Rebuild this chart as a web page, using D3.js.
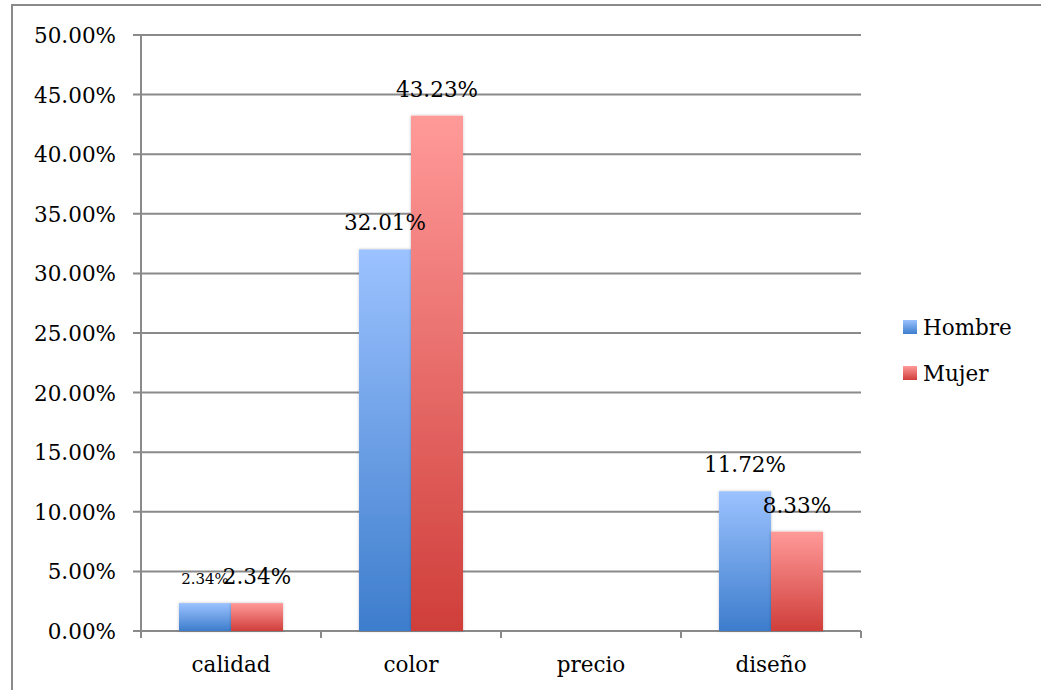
<!DOCTYPE html>
<html><head><meta charset="utf-8">
<script src="https://cdn.jsdelivr.net/npm/d3@7/dist/d3.min.js"></script>
<style>body{margin:0;background:#fff}svg{display:block}text{font-family:"DejaVu Serif","Liberation Serif",serif;fill:#000}</style>
</head><body><svg id="c" width="1041" height="690"></svg>
<script>
const categories = ["calidad","color","precio","diseño"];
const seriesNames = ["Hombre","Mujer"];
const hombre = [2.34, 32.01, 0, 11.72];
const mujer = [2.34, 43.23, 0, 8.33];
const hombreLabels = ["2.34%","32.01%",null,"11.72%"];
const mujerLabels = ["2.34%","43.23%",null,"8.33%"];
const yTicks = [0,5,10,15,20,25,30,35,40,45,50];

const svg = d3.select("#c");
const defs = svg.append("defs");
function grad(id, top, bot){
  const g = defs.append("linearGradient").attr("id",id).attr("x1",0).attr("y1",0).attr("x2",0).attr("y2",1);
  g.append("stop").attr("offset","0%").attr("stop-color",top);
  g.append("stop").attr("offset","100%").attr("stop-color",bot);
}
grad("gH","#9cc2ff","#3d7dcc");
grad("gM","#ff9a99","#cf3e3a");
const f = defs.append("filter").attr("id","sh").attr("x","-20%").attr("y","-20%").attr("width","140%").attr("height","140%");
f.append("feDropShadow").attr("dx",0).attr("dy",0).attr("stdDeviation",1.5).attr("flood-color","#000").attr("flood-opacity",0.25);

// outer frame
svg.append("rect").attr("x",12).attr("y",5).attr("width",1100).attr("height",800)
  .attr("fill","#fff").attr("stroke","#8a8a8a").attr("stroke-width",2);

const L=141, R=861, T=35, B=631;
const x = d3.scaleBand().domain(categories).range([L,R]);
const xs = d3.scaleBand().domain(seriesNames).range([0,x.bandwidth()]).paddingInner(0).paddingOuter(0.73);
const y = d3.scaleLinear().domain([0,50]).range([B,T]);

// gridlines
svg.append("g").selectAll("line").data(yTicks).join("line")
  .attr("x1",L-8).attr("x2",R).attr("y1",d=>y(d)).attr("y2",d=>y(d))
  .attr("stroke","#8a8a8a").attr("stroke-width",2);
// y axis line
svg.append("line").attr("x1",L).attr("x2",L).attr("y1",T).attr("y2",B+6).attr("stroke","#8a8a8a").attr("stroke-width",2);
// y labels
svg.append("g").selectAll("text").data(yTicks).join("text")
  .attr("x",116).attr("y",d=>y(d)+8).attr("text-anchor","end").attr("font-size",21.5)
  .text(d=>d.toFixed(2)+"%");
// x ticks
const xt = categories.map(c=>x(c)).concat([R]);
svg.append("g").selectAll("line").data(xt).join("line")
  .attr("x1",d=>d).attr("x2",d=>d).attr("y1",B).attr("y2",B+7).attr("stroke","#8a8a8a").attr("stroke-width",2);
// x labels
svg.append("g").selectAll("text").data(categories).join("text")
  .attr("x",d=>x(d)+x.bandwidth()/2).attr("y",672).attr("text-anchor","middle").attr("font-size",21.5).text(d=>d);

// bars
const series = [{name:"Hombre",vals:hombre,labels:hombreLabels,fill:"url(#gH)"},{name:"Mujer",vals:mujer,labels:mujerLabels,fill:"url(#gM)"}];
series.forEach(s=>{
  svg.append("g").attr("filter","url(#sh)").selectAll("rect").data(categories.map((c,i)=>({c,v:s.vals[i]})).filter(d=>d.v>0)).join("rect")
    .attr("x",d=>x(d.c)+xs(s.name)).attr("width",xs.bandwidth())
    .attr("y",d=>y(d.v)).attr("height",d=>y(0)-y(d.v)).attr("fill",s.fill);
});
// labels
series.forEach(s=>{
  svg.append("g").selectAll("text").data(categories.map((c,i)=>({c,v:s.vals[i],l:s.labels[i],i})).filter(d=>d.l)).join("text")
    .attr("x",d=>x(d.c)+xs(s.name)+xs.bandwidth()/2).attr("y",d=>y(d.v)-19)
    .attr("text-anchor","middle")
    .attr("font-size",d=>(s.name==="Hombre"&&d.i===0)?15:21.5)
    .text(d=>d.l);
});

// legend
const lg = svg.append("g");
seriesNames.forEach((n,i)=>{
  lg.append("rect").attr("x",903).attr("y",320+i*46).attr("width",14).attr("height",14).attr("fill",i===0?"url(#gH)":"url(#gM)");
  lg.append("text").attr("x",923).attr("y",335+i*46).attr("font-size",21.5).text(n);
});
</script></body></html>
